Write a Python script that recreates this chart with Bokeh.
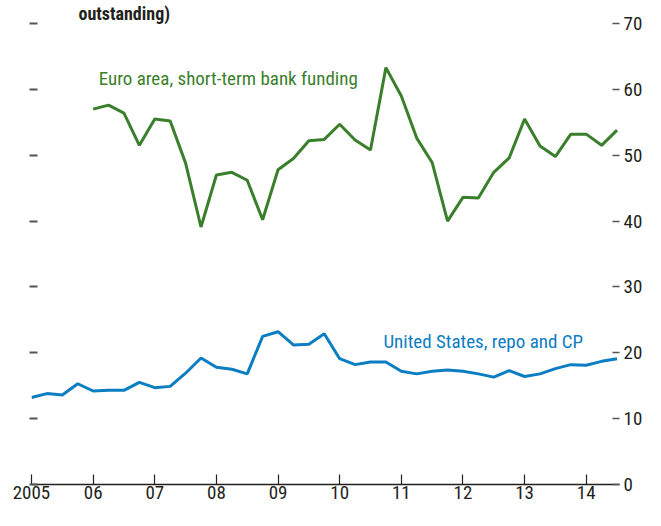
from bokeh.plotting import figure
from bokeh.models import Range1d, LinearAxis, FixedTicker, Label, Title, CustomJSTickFormatter
from bokeh.embed import file_html
from bokeh.resources import INLINE

# ---- data ----
year_ticks = [2005, 2006, 2007, 2008, 2009, 2010, 2011, 2012, 2013, 2014]
year_labels = ["2005", "06", "07", "08", "09", "10", "11", "12", "13", "14"]
y_ticks = [0, 10, 20, 30, 40, 50, 60, 70]

euro_start = 2006.0
euro_values = [57.0, 57.6, 56.4, 51.5, 55.5, 55.2, 48.8, 39.1, 47.0, 47.4,
               46.2, 40.2, 47.8, 49.5, 52.2, 52.4, 54.7, 52.3, 50.8, 63.3,
               59.0, 52.6, 48.9, 40.0, 43.6, 43.5, 47.4, 49.6, 55.5, 51.4,
               49.8, 53.2, 53.2, 51.5, 53.8]

us_start = 2005.0
us_values = [13.2, 13.8, 13.6, 15.3, 14.2, 14.3, 14.3, 15.5, 14.7, 14.9,
             16.9, 19.2, 17.8, 17.5, 16.8, 22.5, 23.2, 21.2, 21.3, 22.9,
             19.1, 18.2, 18.6, 18.6, 17.2, 16.8, 17.2, 17.4, 17.2, 16.8,
             16.3, 17.3, 16.4, 16.8, 17.6, 18.2, 18.1, 18.7, 19.1]

euro_x = [euro_start + i / 4 for i in range(len(euro_values))]
us_x = [us_start + i / 4 for i in range(len(us_values))]

FONT = "Roboto Condensed"
GREEN = "#3a7f2c"
BLUE = "#0b7dc3"
DARK = "#231f20"
TICK = "#555555"
FS = "19px"

p = figure(width=645, height=510, x_range=Range1d(2005, 2014.54),
           y_range=Range1d(0, 70), output_backend="svg", toolbar_location=None,
           min_border_left=31, min_border_right=25, min_border_top=0,
           min_border_bottom=26)
p.outline_line_color = None
p.xgrid.visible = False
p.ygrid.visible = False
p.background_fill_color = "white"
p.border_fill_color = "white"

p.add_layout(Title(text="outstanding)", align="left", offset=47, standoff=0,
                   text_font=FONT, text_font_size="18px", text_font_style="bold",
                   text_color=DARK), "above")

p.line(euro_x, euro_values, line_color=GREEN, line_width=3)
p.line(us_x, us_values, line_color=BLUE, line_width=3)

# bottom axis
xa = p.xaxis[0]
xa.ticker = FixedTicker(ticks=year_ticks)
xa.major_label_overrides = {t: l for t, l in zip(year_ticks, year_labels)}
xa.major_tick_in = 10
xa.major_tick_out = 0
xa.minor_tick_line_color = None
xa.axis_line_color = DARK
xa.axis_line_width = 1.5
xa.major_tick_line_color = DARK
xa.major_tick_line_width = 1.2
xa.major_label_standoff = 1
xa.major_label_text_font = FONT
xa.major_label_text_font_size = FS
xa.major_label_text_color = DARK

# left axis: tick marks only
ya = p.yaxis[0]
ya.ticker = FixedTicker(ticks=y_ticks)
ya.formatter = CustomJSTickFormatter(code="return ''")
ya.axis_line_color = None
ya.major_tick_in = 6
ya.major_tick_out = 2
ya.major_tick_line_color = TICK
ya.major_tick_line_width = 2
ya.minor_tick_line_color = None

# right axis with labels
ra = LinearAxis(ticker=FixedTicker(ticks=y_ticks))
ra.axis_line_color = None
ra.major_tick_in = 7
ra.major_tick_out = 0
ra.major_tick_line_color = TICK
ra.major_tick_line_width = 1.5
ra.minor_tick_line_color = None
ra.major_label_standoff = 4
ra.major_label_text_font = FONT
ra.major_label_text_font_size = FS
ra.major_label_text_color = DARK
p.add_layout(ra, "right")

p.add_layout(Label(x=2006.09, y=59.9, text="Euro area, short-term bank funding",
                   text_font=FONT, text_font_size=FS, text_color=GREEN))
p.add_layout(Label(x=2010.71, y=20.0, text="United States, repo and CP",
                   text_font=FONT, text_font_size=FS, text_color=BLUE))

open("out.html", "w").write(file_html(p, INLINE))
